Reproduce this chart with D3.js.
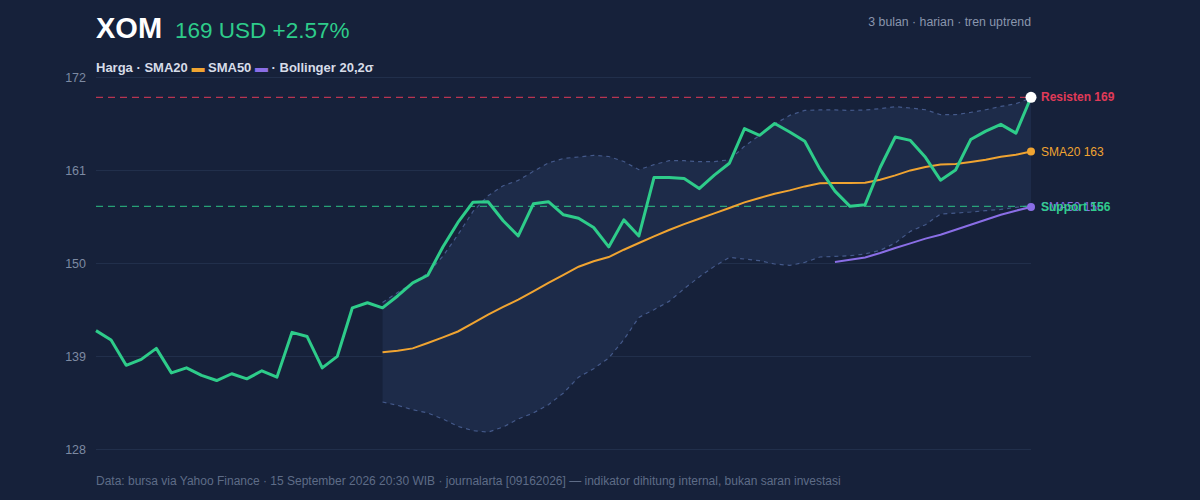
<!DOCTYPE html>
<html>
<head>
<meta charset="utf-8">
<script src="https://cdn.jsdelivr.net/npm/d3@7"></script>
<style>
    body { margin: 0; background: #16213a; }
    svg { display: block; font-family: "Liberation Sans", Arial, sans-serif; }
</style>
</head>
<body>
<div id="chart"></div>
<script>
// daily closes, 3 months
var price = [141.5, 140.4, 137.4, 138.1, 139.4, 136.5, 137.1, 136.2, 135.6, 136.4,
    135.8, 136.75, 136.0, 141.3, 140.8, 137.1, 138.45, 144.2, 144.8, 144.2,
    145.6, 147.15, 148.05, 151.4, 154.3, 156.7, 156.75, 154.5, 152.7, 156.5,
    156.75, 155.2, 154.8, 153.7, 151.4, 154.6, 152.7, 159.6, 159.6, 159.5,
    158.3, 159.9, 161.3, 165.4, 164.6, 166.0, 165.0, 163.9, 160.6, 158.0,
    156.2, 156.4, 160.8, 164.4, 164.0, 162.0, 159.3, 160.5, 164.1, 165.1,
    165.9, 164.86, 169.1];

// indicators start at day 19 (SMA20 / bands) and day 49 (SMA50)
var sma20Start = 19;
var sma20 = [138.93, 139.13, 139.4, 140.04, 140.7, 141.4, 142.4, 143.4, 144.3, 145.16,
    146.14, 147.14, 148.1, 149.06, 149.7, 150.2, 151.07, 151.87, 152.65, 153.4,
    154.1, 154.74, 155.37, 156.0, 156.67, 157.19, 157.7, 158.09, 158.56, 158.92,
    158.96, 158.96, 159.0, 159.35, 159.86, 160.45, 160.86, 161.16, 161.2, 161.45,
    161.72, 162.07, 162.31, 162.7];
var bandUpper = [144.84, 146.0, 147.1, 148.3, 150.3, 152.85, 155.6, 157.46, 158.64, 159.27,
    160.34, 161.33, 161.87, 162.04, 162.23, 162.1, 161.5, 160.54, 161.13, 161.6,
    161.6, 161.48, 161.5, 161.7, 163.3, 164.6, 165.94, 166.96, 167.55, 167.6,
    167.6, 167.55, 167.6, 167.75, 167.99, 167.83, 167.63, 167.04, 167.04, 167.31,
    167.63, 168.02, 168.34, 169.02];
var bandLower = [133.06, 132.66, 132.15, 131.76, 131.05, 130.18, 129.67, 129.5, 130.1, 131.05,
    131.76, 132.74, 134.13, 136.0, 137.0, 138.27, 140.43, 143.07, 143.98, 144.96,
    146.46, 147.85, 149.1, 150.16, 149.97, 149.77, 149.38, 149.22, 149.57, 150.21,
    150.28, 150.36, 150.57, 151.0, 151.87, 153.24, 154.03, 155.3, 155.41, 155.53,
    155.69, 155.84, 156.08, 156.28];
var sma50Start = 49;
var sma50 = [149.62, 149.89, 150.16, 150.68, 151.28, 151.82, 152.38, 152.85, 153.44, 154.03,
    154.62, 155.21, 155.69, 156.12];

var resistance = 169.1;
var support = 156.2;
var yTicks = [127.5, 138.5, 149.5, 160.5, 171.5];

var w = 1200;
var h = 500;
var plotLeft = 96, plotRight = 1031, plotTop = 77, plotBottom = 449;

var green = "#2ecc8a", orange = "#f0a431", purple = "#8a6ee6", red = "#e03a58";

var svg = d3.select("#chart")
    .append("svg")
    .attr("width", w)
    .attr("height", h);

svg.append("rect").attr("width", w).attr("height", h).attr("fill", "#16213a");

var xScale = d3.scaleLinear()
    .domain([0, price.length - 1])
    .range([plotLeft, plotRight]);

var yScale = d3.scaleLinear()
    .domain([yTicks[0], yTicks[yTicks.length - 1]])
    .range([plotBottom, plotTop]);

var fmt = d3.format(".0f");

// grid + y labels
var yAxis = svg.append("g")
    .attr("transform", "translate(" + plotLeft + ",0)")
    .call(d3.axisLeft(yScale)
        .tickValues(yTicks)
        .tickFormat(fmt)
        .tickSize(-(plotRight - plotLeft))
        .tickPadding(10));
yAxis.select(".domain").remove();
yAxis.selectAll(".tick line").attr("stroke", "#212f4b").attr("stroke-width", 1.2);
yAxis.selectAll(".tick text")
    .attr("fill", "#7d8aa2")
    .style("font-size", "12.5px")
    .style("font-family", "\"Liberation Sans\", Arial, sans-serif");

// bollinger band
var bandData = bandUpper.map(function(u, i) {
    return { i: i + sma20Start, u: u, l: bandLower[i] };
});

svg.append("path")
    .datum(bandData)
    .attr("fill", "#1d2b49")
    .attr("d", d3.area()
        .x(function(d) { return xScale(d.i); })
        .y0(function(d) { return yScale(d.l); })
        .y1(function(d) { return yScale(d.u); }));

["u", "l"].forEach(function(k) {
    svg.append("path")
        .datum(bandData)
        .attr("fill", "none")
        .attr("stroke", "#44598a")
        .attr("stroke-width", 1.2)
        .attr("stroke-dasharray", "4,4")
        .attr("d", d3.line()
            .x(function(d) { return xScale(d.i); })
            .y(function(d) { return yScale(d[k]); }));
});

// resistance / support
svg.append("line")
    .attr("x1", plotLeft).attr("x2", plotRight)
    .attr("y1", yScale(resistance)).attr("y2", yScale(resistance))
    .attr("stroke", red).attr("stroke-opacity", 0.8)
    .attr("stroke-width", 1.3)
    .attr("stroke-dasharray", "7,5");

svg.append("line")
    .attr("x1", plotLeft).attr("x2", plotRight)
    .attr("y1", yScale(support)).attr("y2", yScale(support))
    .attr("stroke", green).attr("stroke-opacity", 0.75)
    .attr("stroke-width", 1.3)
    .attr("stroke-dasharray", "7,5");

// moving averages
svg.append("path")
    .datum(sma20)
    .attr("fill", "none")
    .attr("stroke", orange)
    .attr("stroke-width", 2)
    .attr("d", d3.line()
        .x(function(d, i) { return xScale(i + sma20Start); })
        .y(function(d) { return yScale(d); }));

svg.append("path")
    .datum(sma50)
    .attr("fill", "none")
    .attr("stroke", purple)
    .attr("stroke-width", 2)
    .attr("d", d3.line()
        .x(function(d, i) { return xScale(i + sma50Start); })
        .y(function(d) { return yScale(d); }));

// price
svg.append("path")
    .datum(price)
    .attr("fill", "none")
    .attr("stroke", green)
    .attr("stroke-width", 3)
    .attr("stroke-linejoin", "round")
    .attr("d", d3.line()
        .x(function(d, i) { return xScale(i); })
        .y(function(d) { return yScale(d); }));

// end markers and labels
var last = price.length - 1;
var lastSma20 = sma20[sma20.length - 1];
var lastSma50 = sma50[sma50.length - 1];

svg.append("circle").attr("cx", xScale(last)).attr("cy", yScale(lastSma20))
    .attr("r", 4).attr("fill", orange);
svg.append("circle").attr("cx", xScale(last)).attr("cy", yScale(lastSma50))
    .attr("r", 4).attr("fill", purple);
svg.append("circle").attr("cx", xScale(last)).attr("cy", yScale(price[last]))
    .attr("r", 5.5).attr("fill", "#ffffff");

function endLabel(text, value, color, weight) {
    svg.append("text")
        .attr("x", xScale(last) + 10)
        .attr("y", yScale(value))
        .attr("dy", "0.35em")
        .attr("fill", color)
        .style("font-size", "12px")
        .style("font-weight", weight)
        .text(text);
}
endLabel("Resisten " + fmt(resistance), resistance, red, "bold");
endLabel("SMA20 " + fmt(lastSma20), lastSma20, orange, "normal");
endLabel("SMA50 " + fmt(lastSma50), lastSma50, purple, "normal");
endLabel("Support " + fmt(support), support, green, "bold");

// header
var change = (price[last] / price[last - 1] - 1) * 100;

svg.append("text")
    .attr("x", plotLeft).attr("y", 38)
    .attr("fill", "#ffffff")
    .style("font-size", "29px")
    .style("font-weight", "bold")
    .text("XOM");

svg.append("text")
    .attr("x", 175).attr("y", 38)
    .attr("fill", green)
    .style("font-size", "22.5px")
    .text(fmt(price[last]) + " USD " + (change >= 0 ? "+" : "") + change.toFixed(2) + "%");

svg.append("text")
    .attr("x", plotRight).attr("y", 26)
    .attr("text-anchor", "end")
    .attr("fill", "#8a96ad")
    .style("font-size", "12.3px")
    .text("3 bulan · harian · tren uptrend");

// legend
var legend = svg.append("text")
    .attr("x", plotLeft).attr("y", 72)
    .attr("fill", "#d6dce8")
    .style("font-size", "13px")
    .style("font-weight", "bold");
legend.append("tspan").text("Harga · SMA20 ");
legend.append("tspan").attr("fill", orange).text("▬");
legend.append("tspan").text(" SMA50 ");
legend.append("tspan").attr("fill", purple).text("▬");
legend.append("tspan").text(" · Bollinger 20,2σ");

// footer
svg.append("text")
    .attr("x", plotLeft).attr("y", 485)
    .attr("fill", "#5e6c87")
    .style("font-size", "12px")
    .text("Data: bursa via Yahoo Finance · 15 September 2026 20:30 WIB · journalarta [09162026] — indikator dihitung internal, bukan saran investasi");
</script>
</body>
</html>
